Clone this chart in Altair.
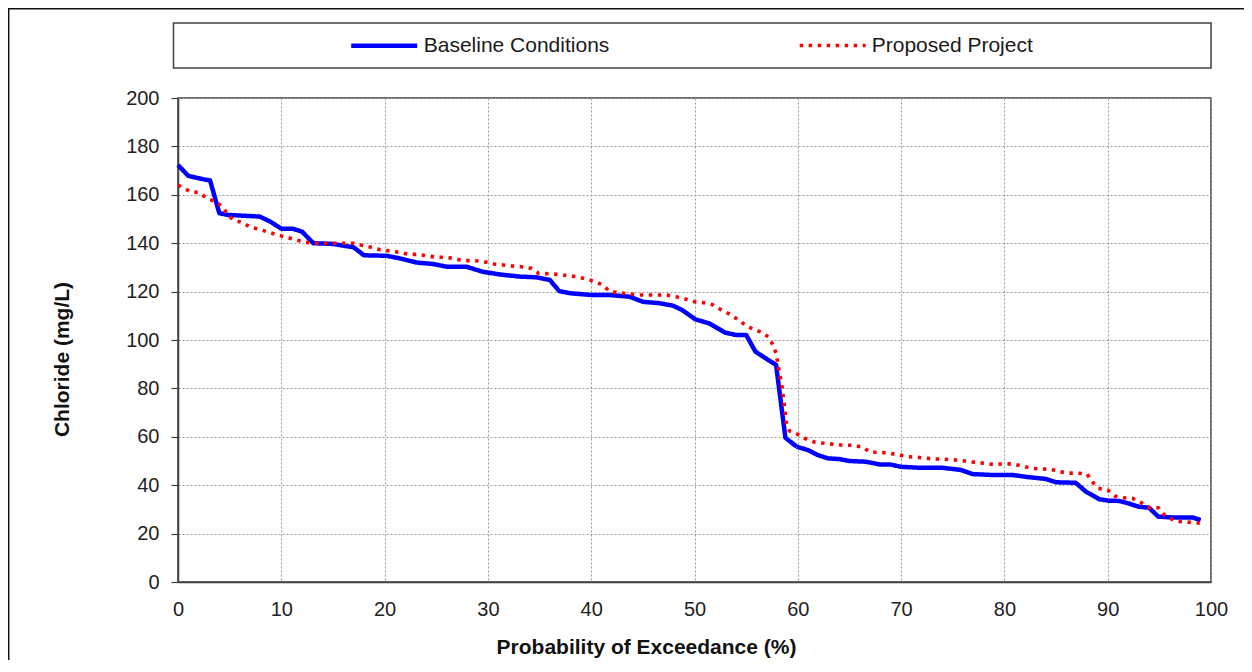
import altair as alt
import pandas as pd

SERIES = ["Baseline Conditions", "Proposed Project"]

base_x = [0, 1.0, 2.8, 3.1, 4.0, 4.8, 7.9, 8.9, 10, 11.1, 12, 13.1, 15, 17, 18, 20.2, 21.5, 23.1,
          24.7, 26, 27.9, 29.5, 31.3, 33.1, 34.7, 36, 36.9, 38, 40, 41.7, 43.7, 45, 46.6, 47.9,
          48.8, 50.1, 51.4, 53, 54, 55, 55.9, 56.9, 57.9, 58.8, 59.9, 61, 61.9, 62.9, 64, 65,
          66.6, 67.9, 68.9, 70, 71.8, 74, 75.8, 76.9, 78.9, 80.8, 82.4, 84, 85, 86.9, 87.9,
          89.2, 90.1, 91.1, 92, 93, 94, 94.9, 96.2, 98.2, 99]
base_y = [172.3, 167.8, 166.1, 166, 152.4, 151.7, 151, 149, 146, 146, 144.8, 140, 139.7, 138.3,
          135, 134.8, 133.7, 132, 131.4, 130.3, 130.3, 128.2, 127, 126.2, 125.9, 124.8, 120.2,
          119.3, 118.6, 118.6, 117.9, 115.8, 115.2, 114.2, 112.4, 108.5, 106.9, 103, 102.1,
          102.1, 95.2, 92.4, 89.7, 59.6, 55.9, 54.5, 52.5, 51.1, 50.8, 50, 49.7, 48.6, 48.6,
          47.6, 47.2, 47.2, 46.3, 44.6, 44.2, 44.2, 43.3, 42.6, 41.2, 41, 37.3, 34.2, 33.6,
          33.5, 32.5, 31.1, 30.7, 27, 26.7, 26.7, 25.6]

prop_x = [0, 1.2, 2.1, 2.8, 3.6, 4.3, 4.8, 5.35, 6.2, 7.0, 7.9, 8.8, 9.7, 10.6, 11.5, 12.3, 13,
          17, 17.9, 18.7, 19.6, 20.5, 21.5, 22.3, 23.2, 24.1, 25, 26, 26.9, 27.8, 28.7, 29.6,
          30.6, 31.5, 32.3, 33.2, 34.2, 34.9, 36.8, 38.5, 39.5, 40.4, 41.2, 41.8, 44.5, 47.3,
          48.2, 49.1, 50, 50.9, 51.8, 52.6, 53.4, 54.2, 54.9, 55.7, 56.5, 57.2, 57.6, 57.9,
          58.2, 58.5, 58.7, 58.9, 59.2, 60, 60.8, 61.7, 62.6, 63.5, 64.4, 65.4, 66.3, 67, 67.9,
          68.9, 69.8, 70.7, 71.6, 72.6, 73.5, 74.3, 75.3, 76.2, 77.1, 78, 78.9, 79.9, 80.8,
          81.7, 82.6, 83.5, 84.5, 85.3, 86.2, 87.1, 88, 88.5, 89.1, 90, 90.7, 91.5, 92.4, 93.2,
          94, 94.9, 95.5, 96.2, 97.1, 98, 99]
prop_y = [164, 161.3, 160.9, 158.5, 157.2, 155.1, 151.9, 149.6, 148.6, 146.6, 145.7, 144.5, 143.3,
          142.4, 141.3, 140.4, 140, 140, 139, 138.3, 137.3, 136.8, 136.2, 135.4, 135.4, 134.8,
          134.2, 134.2, 133.4, 132.8, 132.8, 132.4, 131.4, 131, 130.6, 130.3, 129.6, 127.6,
          127.1, 126.2, 125.2, 124.1, 122.5, 120, 118.6, 118.6, 117.9, 116.9, 115.8, 115.4,
          114.5, 112.4, 110.7, 108.5, 106.2, 104.4, 103.2, 101.1, 97.9, 94.5, 86.9, 80, 72.4,
          65.6, 62.4, 61, 59.1, 57.7, 57.3, 56.9, 56.5, 56.5, 55.7, 53.6, 53.6, 53.2, 52.5,
          51.8, 51.5, 51.1, 50.8, 50.7, 50.4, 50, 49.5, 49.1, 48.6, 48.8, 48.8, 47.9, 47, 46.7,
          46.6, 45.6, 45, 45, 44.6, 41.4, 38.7, 38, 35.5, 34.8, 34.6, 32.9, 30.7, 30.7, 27.7,
          25.9, 24.9, 24.7, 24.3]

x_ticks = list(range(0, 101, 10))
y_ticks = list(range(0, 201, 20))

df = pd.concat([
    pd.DataFrame({"exceed": base_x, "chloride": base_y, "series": SERIES[0],
                  "order": list(range(len(base_x)))}),
    pd.DataFrame({"exceed": prop_x, "chloride": prop_y, "series": SERIES[1],
                  "order": list(range(len(prop_x)))}),
], ignore_index=True)

FONT = "Liberation Sans"
W, H = 1033, 484
DARK = "#404040"

x_axis = alt.Axis(values=x_ticks, grid=True, gridDash=[2, 2], gridColor="#9a9a9a",
                  ticks=False, labelPadding=17, labelFlush=False, labelFont=FONT,
                  labelFontSize=20, labelColor="#222222", domainColor=DARK, domainWidth=1.5,
                  title="Probability of Exceedance (%)", titleFont=FONT, titleFontSize=21,
                  titleFontWeight="bold", titleColor="#111111", titleX=468, titleY=71,
                  titleBaseline="alphabetic")
y_axis = alt.Axis(values=y_ticks, grid=True, gridDash=[2, 2], gridColor="#9a9a9a",
                  tickSize=7, tickColor=DARK, tickWidth=1.2, labelPadding=12,
                  labelFlush=False, labelFont=FONT, labelFontSize=20, labelColor="#222222",
                  domainColor=DARK, domainWidth=1.5,
                  title="Chloride (mg/L)", titleFont=FONT, titleFontSize=21,
                  titleFontWeight="bold", titleColor="#111111", titleX=-116, titleY=261,
                  titleAngle=270, titleBaseline="middle", titleAlign="center")

lines = alt.Chart(df).mark_line(strokeJoin="round").encode(
    x=alt.X("exceed:Q", scale=alt.Scale(domain=[0, 100], nice=False), axis=x_axis),
    y=alt.Y("chloride:Q", scale=alt.Scale(domain=[0, 200], nice=False), axis=y_axis),
    color=alt.Color("series:N", title=None,
                    scale=alt.Scale(domain=SERIES, range=["#0000ff", "#ff0000"])),
    strokeDash=alt.StrokeDash("series:N", title=None,
                              scale=alt.Scale(domain=SERIES, range=[[1, 0], [3.4, 5.6]])),
    strokeWidth=alt.StrokeWidth("series:N", title=None,
                                scale=alt.Scale(domain=SERIES, range=[4.5, 3.6])),
    order="order:Q",
)

legend_box = alt.Chart(alt.Data(values=[{}])).mark_rect(
    fillOpacity=0, stroke=DARK, strokeWidth=1.5
).encode(x=alt.value(-4.5), x2=alt.value(1033), y=alt.value(-75), y2=alt.value(-30))

top_border = alt.Chart(alt.Data(values=[{}])).mark_rule(
    stroke="#111111", strokeWidth=1.5
).encode(x=alt.value(-170), x2=alt.value(1100), y=alt.value(-89.3))
left_border = alt.Chart(alt.Data(values=[{}])).mark_rule(
    stroke="#111111", strokeWidth=1.5
).encode(x=alt.value(-169.3), y=alt.value(-90), y2=alt.value(700))

chart = alt.layer(top_border, left_border, legend_box, lines).properties(
    width=W, height=H,
    autosize=alt.AutoSizeParams(type="none"),
    padding={"left": 170, "top": 90, "right": 33, "bottom": 78},
).configure_view(
    stroke=DARK, strokeWidth=1.5
).configure_legend(
    orient="none", legendX=170.7, legendY=-88, direction="horizontal",
    labelFont=FONT, labelFontSize=21, labelColor="#1a1a1a", labelLimit=400,
    symbolType="stroke", symbolSize=4356, labelOffset=4, columnPadding=182,
    padding=0,
)

chart.save("out.html", embed_options={"renderer": "svg", "actions": False})
